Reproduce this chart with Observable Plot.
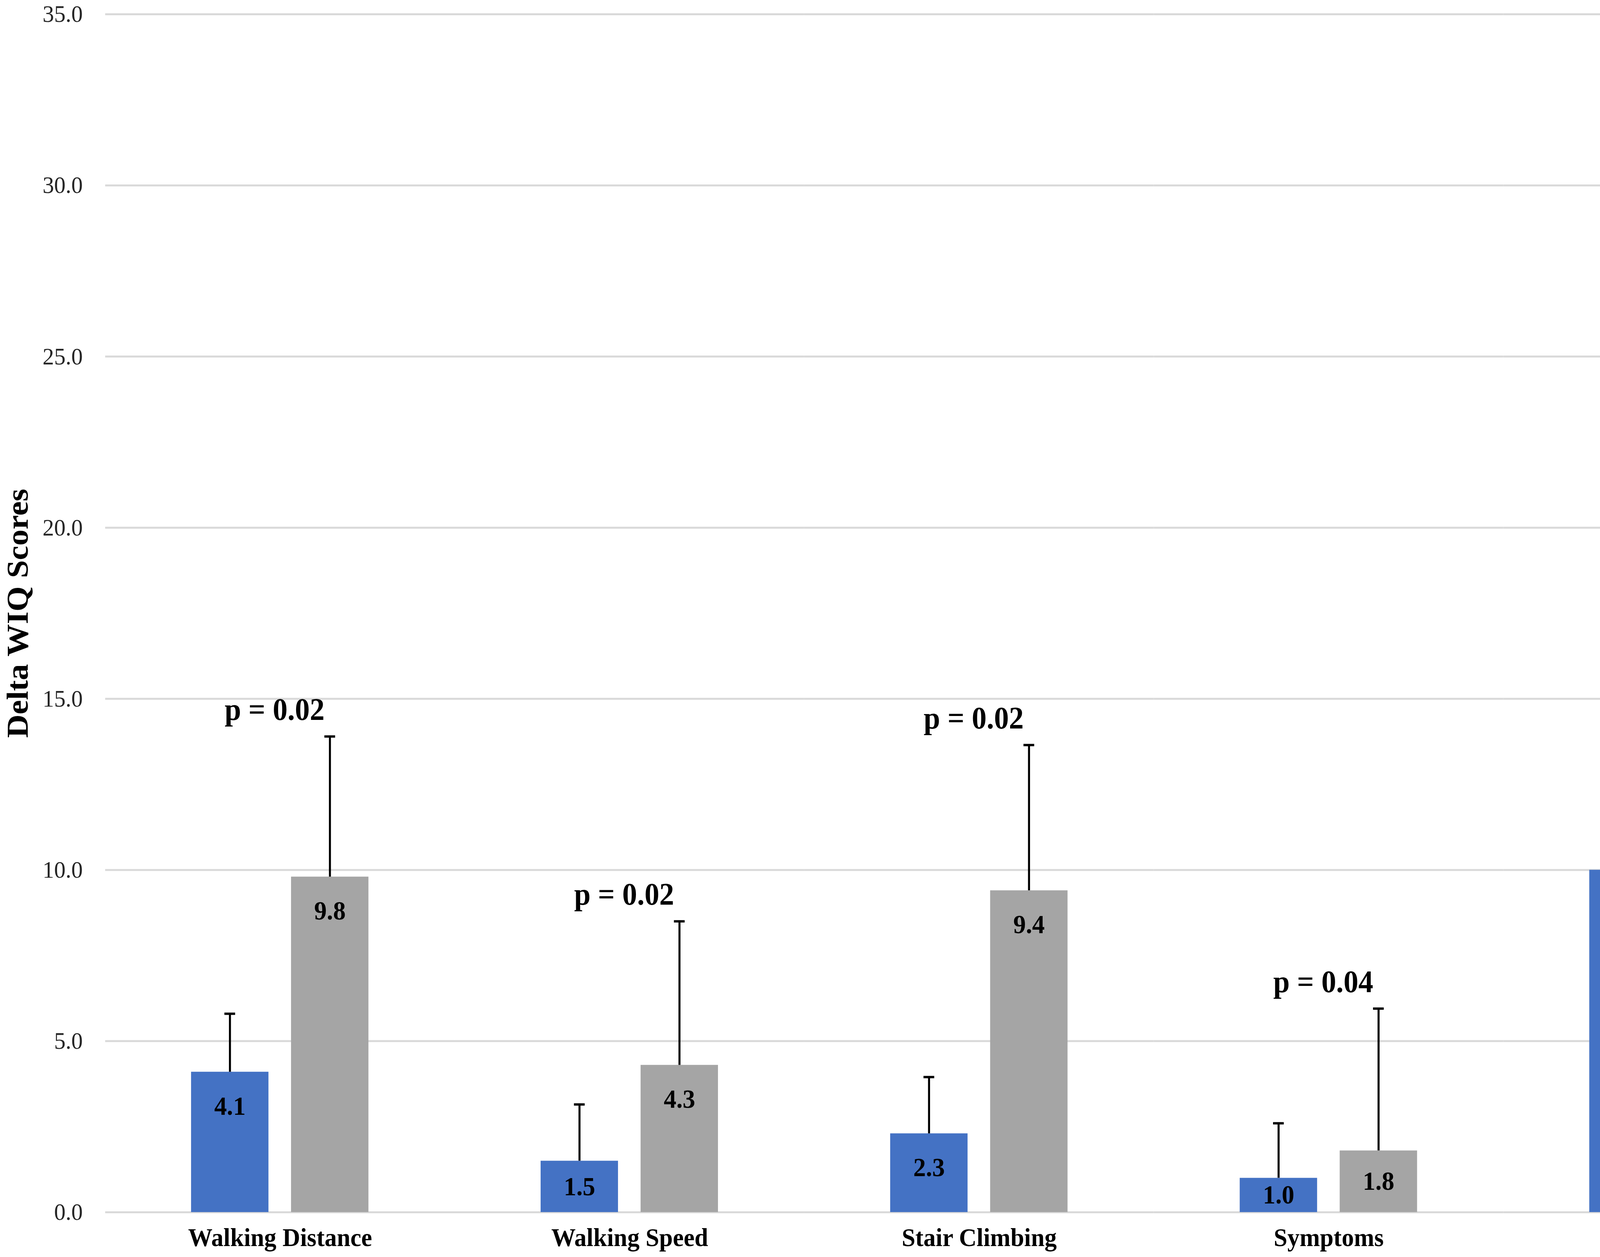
<!DOCTYPE html>
<html>
<head>
<meta charset="utf-8">
<script src="https://cdn.jsdelivr.net/npm/d3@7"></script>
<script src="https://cdn.jsdelivr.net/npm/@observablehq/plot@0.6"></script>
<style>
  html, body { margin: 0; padding: 0; background: white; overflow: hidden; }
  #wrap { width: 100vw; height: 100vh; overflow: hidden; position: relative; background: white; }
  #wrap svg { display: block; }
</style>
</head>
<body>
<div id="wrap"></div>
<script>
// ---- data ----
const categories = ["Walking Distance", "Walking Speed", "Stair Climbing", "Symptoms", "(cropped category)"];
const series = ["Series 1", "Series 2"];
const series1Values = [4.1, 1.5, 2.3, 1.0, 10.0];
const series2Values = [9.8, 4.3, 9.4, 1.8, null];
const series1SD = [1.7, 1.65, 1.65, 1.6, null];
const series2SD = [4.1, 4.2, 4.25, 4.15, null];
const pValues = ["0.02", "0.02", "0.02", "0.04", null];
const yTicks = [0, 5, 10, 15, 20, 25, 30, 35];
const yDomain = [0, 35];
const visibleCategories = categories.slice(0, 4);
const yTitle = "Delta WIQ Scores";

// ---- tables built from the arrays ----
const rows = [];
categories.forEach((c, i) => {
  [[series[0], series1Values[i], series1SD[i]], [series[1], series2Values[i], series2SD[i]]]
    .forEach(([s, v, sd]) => { if (v != null) rows.push({category: c, series: s, value: v, sd}); });
});
const errRows = rows.filter(d => d.sd != null);
const labelRows = rows.filter(d => visibleCategories.includes(d.category));
const pRows = categories.map((c, i) => ({category: c, p: pValues[i], top: series2Values[i] + series2SD[i]}))
  .filter(d => d.p != null);

const FONT = "'Liberation Serif', 'Times New Roman', Times, serif";
const REF_W = 4321, REF_H = 3218;
const STEP = 944;            // width of one category band (px, reference units)
const ML = 284, MT = 36, MB = 115;
const H = REF_H;
const W = ML + STEP * categories.length;

const chart = Plot.plot({
  width: W,
  height: H,
  marginLeft: ML,
  marginRight: 0,
  marginTop: MT,
  marginBottom: MB,
  style: {fontFamily: FONT, maxWidth: "none", background: "white"},
  fx: {domain: categories, padding: 0, label: null},
  x: {domain: series, paddingInner: 0.2245, paddingOuter: 0.8597, axis: null},
  y: {domain: yDomain, label: null},
  color: {domain: series, range: ["#4472C4", "#A5A5A5"]},
  marks: [
    Plot.gridY(yTicks, {stroke: "#D9D9D9", strokeOpacity: 1, strokeWidth: 5}),
    Plot.barY(rows, {fx: "category", x: "series", y: "value", fill: "series"}),
    Plot.ruleX(errRows, {fx: "category", x: "series", y1: "value", y2: d => d.value + d.sd, stroke: "black", strokeWidth: 5.5}),
    Plot.tickY(errRows, {fx: "category", x: "series", y: d => d.value + d.sd, stroke: "black", strokeWidth: 6, insetLeft: 90, insetRight: 90}),
    Plot.text(labelRows, {
      fx: "category", x: "series",
      y: d => Math.max(d.value - 1.0, d.value / 2),
      text: d => d.value.toFixed(1),
      fontSize: 68, fontWeight: "bold", fill: "black", lineAnchor: "middle"
    }),
    Plot.text(pRows, {
      fx: "category", y: "top", text: d => `p = ${d.p}`,
      dy: -68, dx: -15, lineAnchor: "middle", textAnchor: "middle",
      fontSize: 80, fontWeight: "bold", fill: "black"
    }),
    Plot.axisY({
      ticks: yTicks, tickSize: 0, tickPadding: 61, tickFormat: d => d.toFixed(1),
      fontSize: 62, fill: "#262626", label: null
    }),
    Plot.text([yTitle], {
      y: [d3.mean(yDomain)], frameAnchor: "left", facetAnchor: "left", rotate: -90, dx: -236,
      textAnchor: "middle", lineAnchor: "middle", fontSize: 83, fontWeight: "bold", fill: "black"
    }),
    Plot.axisFx({
      ticks: visibleCategories, anchor: "bottom", tickSize: 0, tickPadding: 40,
      fontSize: 66, fontWeight: "bold", fill: "black", label: null
    })
  ]
});

// fit the reference-sized drawing to the actual viewport, cropped at the right edge as in the reference
const vw = document.documentElement.clientWidth || window.innerWidth;
const vh = document.documentElement.clientHeight || window.innerHeight;
const sx = vw / REF_W, sy = vh / REF_H;
chart.setAttribute("preserveAspectRatio", "none");
chart.setAttribute("width", W * sx);
chart.setAttribute("height", H * sy);
chart.style.width = (W * sx) + "px";
chart.style.height = (H * sy) + "px";
document.getElementById("wrap").appendChild(chart);
</script>
</body>
</html>
